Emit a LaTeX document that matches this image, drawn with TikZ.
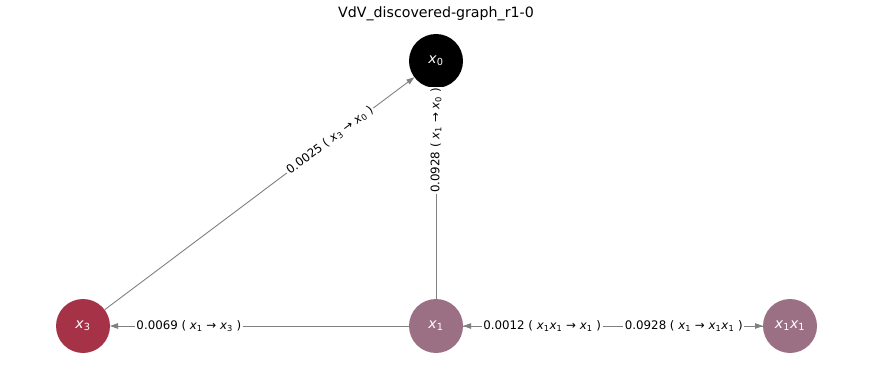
\documentclass[tikz,border=0pt]{standalone}
\usepackage{fontspec}
\setmainfont{DejaVu Sans}
\usetikzlibrary{arrows.meta}
\definecolor{xthree}{RGB}{166,50,72}
\definecolor{xone}{RGB}{155,112,133}
\definecolor{edgegray}{RGB}{128,128,128}
\newcommand{\vx}[1]{\textit{x}\textsubscript{#1}}

\begin{document}
\begin{tikzpicture}[x=1pt, y=-1pt,
  vnode/.style={circle, minimum size=54pt, inner sep=0pt, text=white,
                font=\fontsize{14}{16}\selectfont},
  arr/.style={-{Triangle[length=8pt,width=5.5pt]}, edgegray, line width=0.9pt,
              shorten <=27pt, shorten >=27pt},
  elbl/.style={pos=0.7, sloped, fill=white, inner sep=1.5pt, text=black,
               font=\fontsize{11.8}{13}\selectfont},
]
  \useasboundingbox (0,0) rectangle (873,377);
  \node[font=\fontsize{14.2}{16}\selectfont] (title) at (436,14) {VdV\_discovered-graph\_r1-0};

  \node[vnode, fill=black] (x0)   at (436,61)  {\vx{0}};
  \node[vnode, fill=xone]  (x1)   at (436,326) {\vx{1}};
  \node[vnode, fill=xthree] (x3)  at (83,326)  {\vx{3}};
  \node[vnode, fill=xone]  (x1x1) at (790,326) {\vx{1}\vx{1}};

  % edges first, centre to centre
  \draw[arr] (x3.center) -- (x0.center);
  \draw[arr] (x1.center) -- (x0.center);
  \draw[arr] (x1.center) -- (x3.center);
  \draw[arr] (x1x1.center) -- (x1.center);
  \draw[arr] (x1.center) -- (x1x1.center);

  % labels on top, at 0.7 of each span
  \path (x3.center) -- node[elbl]{0.0025 ( \vx{3} → \vx{0} )} (x0.center);
  \path (x1.center) -- node[elbl]{0.0928 ( \vx{1} → \vx{0} )} (x0.center);
  \path (x1.center) -- node[elbl]{0.0069 ( \vx{1} → \vx{3} )} (x3.center);
  \path (x1x1.center) -- node[elbl]{0.0012 ( \vx{1}\vx{1} → \vx{1} )} (x1.center);
  \path (x1.center) -- node[elbl]{0.0928 ( \vx{1} → \vx{1}\vx{1} )} (x1x1.center);
\end{tikzpicture}
\end{document}
